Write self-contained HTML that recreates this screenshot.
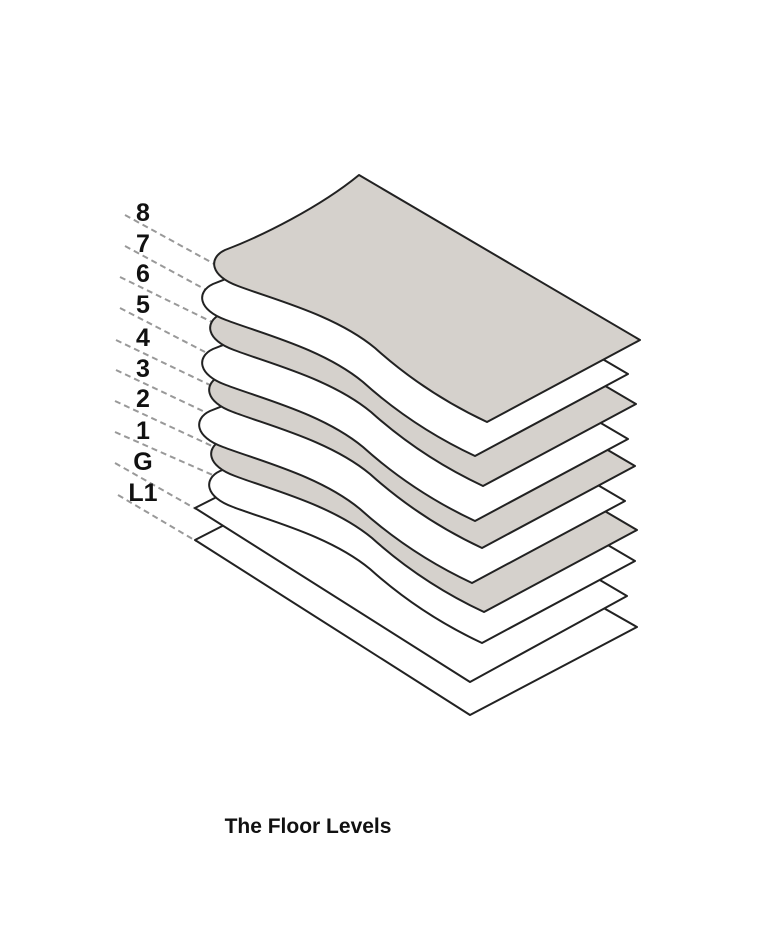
<!DOCTYPE html>
<html><head><meta charset="utf-8"><style>
html,body{margin:0;padding:0;background:#fff;}
svg{display:block}
</style></head><body>
<svg width="768" height="926" viewBox="0 0 768 926" xmlns="http://www.w3.org/2000/svg">
<defs>
<path id="sh" d="M359,175 L640,340 L487,422 C440,400 405,375 375,348 C335,315 275,300 238,286 C210,276 208,258 225,250 C262,236 320,207 359,175 Z"/>
</defs>
<g stroke="#999" stroke-width="2" stroke-dasharray="6 4" fill="none">
<line x1="125" y1="215" x2="218" y2="266"/>
<line x1="125" y1="246" x2="210" y2="292"/>
<line x1="120" y1="277" x2="212" y2="322"/>
<line x1="120" y1="308" x2="205" y2="352"/>
<line x1="116" y1="340" x2="212" y2="386"/>
<line x1="116" y1="370" x2="205" y2="412"/>
<line x1="115" y1="401" x2="212" y2="446"/>
<line x1="115" y1="432" x2="215" y2="476"/>
<line x1="115" y1="463" x2="196" y2="509"/>
<line x1="118" y1="495" x2="196" y2="541"/>
</g>
<g stroke="#222" stroke-width="2" stroke-linejoin="round">
<polygon points="195,540 347,462 637,627 470,715" fill="#fff"/>
<polygon points="195,508 347,431 627,596 470,682" fill="#fff"/>
<use href="#sh" transform="translate(-5,221)" fill="#fff"/>
<use href="#sh" transform="translate(-3,190)" fill="#d5d1cc"/>
<use href="#sh" transform="translate(-15,161)" fill="#fff"/>
<use href="#sh" transform="translate(-5,126)" fill="#d5d1cc"/>
<use href="#sh" transform="translate(-12,99)" fill="#fff"/>
<use href="#sh" transform="translate(-4,64)" fill="#d5d1cc"/>
<use href="#sh" transform="translate(-12,34)" fill="#fff"/>
<use href="#sh" fill="#d5d1cc"/>
</g>
<g font-family="Liberation Sans, sans-serif" font-weight="bold" font-size="25" fill="#111" text-anchor="middle">
<text x="143" y="221">8</text>
<text x="143" y="252">7</text>
<text x="143" y="282">6</text>
<text x="143" y="313">5</text>
<text x="143" y="346">4</text>
<text x="143" y="377">3</text>
<text x="143" y="407">2</text>
<text x="143" y="439">1</text>
<text x="143" y="470">G</text>
<text x="143" y="501">L1</text>
</g>
<text x="308" y="833" font-family="Liberation Sans, sans-serif" font-size="21" font-weight="600" fill="#111" text-anchor="middle">The Floor Levels</text>
</svg>
</body></html>
